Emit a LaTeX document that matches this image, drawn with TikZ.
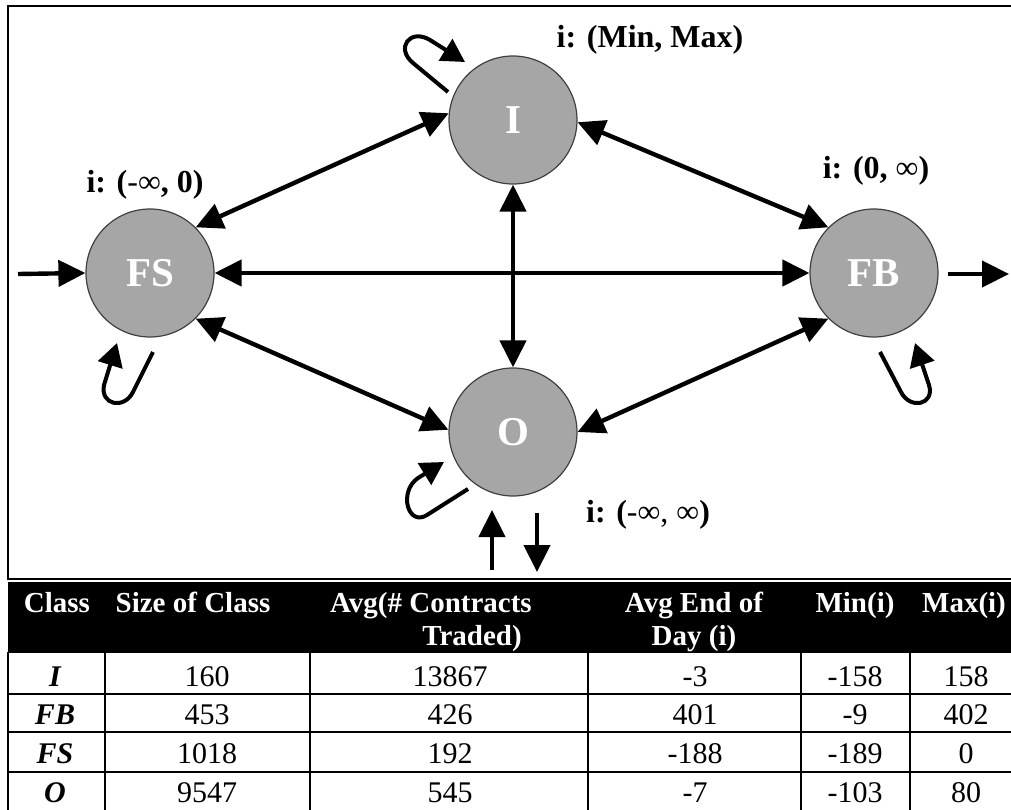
\documentclass[tikz,border=0pt]{standalone}
\usepackage{fontspec}
\setmainfont{Liberation Serif}
\usetikzlibrary{arrows.meta}
\begin{document}
\begin{tikzpicture}[x=1pt,y=-1pt,
  state/.style={circle, minimum size=128pt, inner sep=0pt, fill=black!35, draw=black!75, line width=1.2pt, text=white, font=\fontsize{41}{41}\selectfont\bfseries},
  link/.style={line width=4.4pt, {Triangle[length=27pt,width=26pt]}-{Triangle[length=27pt,width=26pt]}},
  onearrow/.style={line width=4.4pt, -{Triangle[length=27pt,width=26pt]}},
  loopy/.style={line width=4pt, -{Triangle[length=23pt,width=25pt]}},
  lbl/.style={inner sep=0pt, anchor=base, font=\fontsize{32}{32}\selectfont\bfseries},
  th/.style={inner sep=0pt, anchor=base, text=white, font=\fontsize{29}{29}\selectfont\bfseries},
  td/.style={inner sep=0pt, anchor=base, font=\fontsize{30}{30}\selectfont},
  tdc/.style={inner sep=0pt, anchor=base, font=\fontsize{30}{30}\selectfont\bfseries\itshape},
  tline/.style={line width=2pt}
]
\useasboundingbox (0,0) rectangle (1011,810);
% frame
\draw[line width=2.2pt] (8,6) rectangle (1030,579);
% nodes
\node[state] (I) at (513,120) {I};
\node[state] (FS) at (150,273) {FS};
\node[state] (FB) at (874,273) {FB};
\node[state] (O) at (513,432) {O};
% labels
\node[lbl] (lI) at (650,48) {i: (Min, Max)};
\node[lbl] (lFS) at (145,193) {i: ({\mdseries-∞}, 0)};
\node[lbl] (lFB) at (876,179) {i: (0, {\mdseries∞})};
\node[lbl] (lO) at (648,522) {i: ({\mdseries-∞, ∞})};
% connectors
\draw[link] (FS.45) -- (I.174);
\draw[link] (I.-2) -- (FB.135);
\draw[link] (FS.-45) -- (O.178);
\draw[link] (O.0) -- (FB.-135);
\draw[link] (FS.east) -- (FB.west);
\draw[link] (I.south) -- (O.north);
\coordinate (inS) at (18,274);
\coordinate (outS) at (948,274);
\coordinate (outE) at (1009,274);
\draw[onearrow] (inS) -- (FS.west);
\draw[onearrow] (outS) -- (outE);
\coordinate (upS) at (492,570);
\coordinate (upE) at (492,510);
\coordinate (dnS) at (537,513);
\coordinate (dnE) at (537,572);
\draw[onearrow] (upS) -- (upE);
\draw[onearrow] (dnS) -- (dnE);
% self loops
\draw[loopy] (448,92) -- (413,63) .. controls (395,48) and (410,28) .. (430,40) -- (465,62);
\draw[loopy] (153,352) -- (133,392) .. controls (124,410) and (100,405) .. (104,385) -- (117,343);
\draw[loopy] (468,489) -- (427,515) .. controls (408,527) and (398,492) .. (418,478) -- (444,462);
\draw[loopy] (880,352) -- (901,392) .. controls (910,410) and (935,405) .. (929,385) -- (915,343);
% table
\fill[black] (8,582) rectangle (1030,653);
\draw[tline] (8,652) -- (8,815);
\foreach \xx in {105,310,588,801,910} \draw[tline] (\xx,652) -- (\xx,815);
\foreach \yy in {694,732,772} \draw[tline] (8,\yy) -- (1030,\yy);
\node[th] (h1) at (57,612) {Class};
\node[th] (h2) at (193,612) {Size of Class};
\node[th] (h3a) at (431,612) {Avg(\# Contracts};
\node[th] (h3b) at (472,645) {Traded)};
\node[th] (h4a) at (694,612) {Avg End of};
\node[th] (h4b) at (694,645) {Day (i)};
\node[th] (h5) at (855,612) {Min(i)};
\node[th] (h6) at (964,612) {Max(i)};
% rows
\node[tdc] at (55,686) {I};
\node[td] at (207,686) {160};
\node[td] at (450,686) {13867};
\node[td] at (695,686) {-3};
\node[td] at (855,686) {-158};
\node[td] at (966,686) {158};
\node[tdc] at (55,724) {FB};
\node[td] at (207,724) {453};
\node[td] at (450,724) {426};
\node[td] at (695,724) {401};
\node[td] at (855,724) {-9};
\node[td] at (966,724) {402};
\node[tdc] at (55,763) {FS};
\node[td] at (207,763) {1018};
\node[td] at (450,763) {192};
\node[td] at (695,763) {-188};
\node[td] at (855,763) {-189};
\node[td] at (966,763) {0};
\node[tdc] at (55,802) {O};
\node[td] at (207,802) {9547};
\node[td] at (450,802) {545};
\node[td] at (695,802) {-7};
\node[td] at (855,802) {-103};
\node[td] at (966,802) {80};
\end{tikzpicture}
\end{document}
